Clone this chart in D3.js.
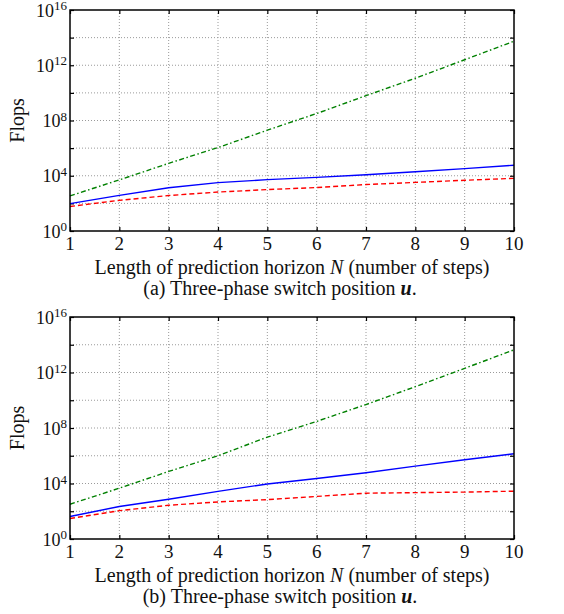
<!DOCTYPE html>
<html>
<head>
<meta charset="utf-8">
<script src="https://cdnjs.cloudflare.com/ajax/libs/d3/7.8.5/d3.min.js"></script>
<style>
  body { margin: 0; background: #fff; }
</style>
</head>
<body>
<svg width="564" height="614"></svg>
<script>
// horizon lengths and axis ticks
const horizon = [1, 2, 3, 4, 5, 6, 7, 8, 9, 10];
const gridExp = [0, 2, 4, 6, 8, 10, 12, 14, 16];
const labelExp = [0, 4, 8, 12, 16];

// panel (a)
const greenA = [3.5e2, 5.0e3, 7.9e4, 1.1e6, 2.0e7, 3.2e8, 6.3e9, 1.15e11, 2.5e12, 5.5e13];
const blueA  = [9.5e1, 3.8e2, 1.35e3, 3.2e3, 5.2e3, 7.6e3, 1.17e4, 1.95e4, 3.3e4, 5.8e4];
const redA   = [5.9e1, 1.66e2, 3.7e2, 6.6e2, 1.0e3, 1.4e3, 2.3e3, 3.3e3, 4.7e3, 6.5e3];

// panel (b)
const greenB = [3.2e2, 4.6e3, 7.4e4, 1.0e6, 2.2e7, 3.0e8, 4.9e9, 9.5e10, 2.0e12, 4.3e13];
const blueB  = [4.2e1, 2.2e2, 7.4e2, 2.7e3, 9.3e3, 2.3e4, 6.0e4, 1.8e5, 5.1e5, 1.4e6];
const redB   = [3.0e1, 1.1e2, 2.7e2, 4.7e2, 6.9e2, 1.17e3, 2.0e3, 2.2e3, 2.4e3, 2.8e3];

const FONT = "'Liberation Serif'";
const svg = d3.select("svg");

var x = d3.scaleLinear().domain([1, 10]).range([70, 514]);

function drawPanel(top, bottom, green, blue, red, tag) {
    var y = d3.scaleLog().domain([1, 1e16]).range([bottom, top]);
    var g = svg.append("g");

    // dotted grid
    g.selectAll(".gx").data(horizon.slice(1, -1)).enter().append("line")
        .attr("x1", d => x(d)).attr("x2", d => x(d))
        .attr("y1", top).attr("y2", bottom)
        .attr("stroke", "#9a9a9a").attr("stroke-width", 1).attr("stroke-dasharray", "1,2");
    g.selectAll(".gy").data(gridExp.slice(1, -1)).enter().append("line")
        .attr("x1", 70).attr("x2", 514)
        .attr("y1", d => y(Math.pow(10, d))).attr("y2", d => y(Math.pow(10, d)))
        .attr("stroke", "#9a9a9a").attr("stroke-width", 1).attr("stroke-dasharray", "1,2");

    // inside ticks on all four sides
    var yVals = gridExp.map(e => Math.pow(10, e));
    g.append("g").attr("transform", "translate(70,0)")
        .call(d3.axisLeft(y).tickValues(yVals).tickSize(-4).tickFormat(""));
    g.append("g").attr("transform", "translate(514,0)")
        .call(d3.axisRight(y).tickValues(yVals).tickSize(-4).tickFormat(""));
    g.append("g").attr("transform", "translate(0," + bottom + ")")
        .call(d3.axisBottom(x).tickValues(horizon).tickSize(-4).tickFormat(""));
    g.append("g").attr("transform", "translate(0," + top + ")")
        .call(d3.axisTop(x).tickValues(horizon).tickSize(-4).tickFormat(""));
    g.selectAll(".domain").remove();
    g.selectAll(".tick line").attr("stroke", "#000").attr("stroke-width", 1.2);

    // lines
    var line = d3.line().x((d, i) => x(horizon[i])).y(d => y(d));
    g.append("path").datum(green).attr("d", line).attr("fill", "none")
        .attr("stroke", "#008000").attr("stroke-width", 1.4).attr("stroke-dasharray", "5,2.5,1.5,2.5");
    g.append("path").datum(blue).attr("d", line).attr("fill", "none")
        .attr("stroke", "#0000ff").attr("stroke-width", 1.4);
    g.append("path").datum(red).attr("d", line).attr("fill", "none")
        .attr("stroke", "#ff0000").attr("stroke-width", 1.4).attr("stroke-dasharray", "5,3");

    // frame
    g.append("rect").attr("x", 70).attr("y", top).attr("width", 444).attr("height", bottom - top)
        .attr("fill", "none").attr("stroke", "#000").attr("stroke-width", 1.5);

    // y labels 10^n
    var yl = g.selectAll(".yl").data(labelExp).enter().append("text")
        .attr("x", 67).attr("y", d => y(Math.pow(10, d)) + 6.5)
        .attr("text-anchor", "end")
        .style("font-family", FONT).style("font-size", "18px").style("fill", "#111");
    yl.append("tspan").text("10");
    yl.append("tspan").attr("dy", -6.5).style("font-size", "13px").text(d => d);

    // x labels
    g.selectAll(".xl").data(horizon).enter().append("text")
        .attr("x", d => x(d)).attr("y", bottom + 19)
        .attr("text-anchor", "middle")
        .style("font-family", FONT).style("font-size", "19px").style("fill", "#111")
        .text(d => d);

    g.append("text").attr("transform", "translate(24," + ((top + bottom) / 2) + ") rotate(-90)")
        .attr("text-anchor", "middle")
        .style("font-family", FONT).style("font-size", "20px").style("fill", "#111")
        .text("Flops");

    var xt = g.append("text").attr("x", 292).attr("y", bottom + 43)
        .attr("text-anchor", "middle")
        .style("font-family", FONT).style("font-size", "20px").style("fill", "#111");
    xt.append("tspan").text("Length of prediction horizon ");
    xt.append("tspan").style("font-style", "italic").text("N");
    xt.append("tspan").text(" (number of steps)");

    var cap = g.append("text").attr("x", 280).attr("y", bottom + 64)
        .attr("text-anchor", "middle")
        .style("font-family", FONT).style("font-size", "20px").style("fill", "#111");
    cap.append("tspan").text("(" + tag + ") Three-phase switch position ");
    cap.append("tspan").style("font-style", "italic").style("font-weight", "bold").text("u");
    cap.append("tspan").text(".");
}

drawPanel(10, 231, greenA, blueA, redA, "a");
drawPanel(317, 539, greenB, blueB, redB, "b");
</script>
</body>
</html>
